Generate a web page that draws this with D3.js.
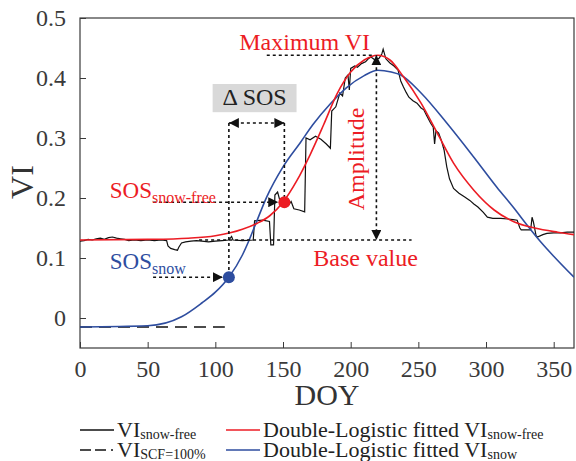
<!DOCTYPE html>
<html>
<head>
<meta charset="utf-8">
<script src="https://cdn.jsdelivr.net/npm/d3@7"></script>
<style>
  body { margin: 0; background: #fff; }
  svg, svg text { font-family: "Liberation Serif", "Times New Roman", serif; }
</style>
</head>
<body>
<svg id="chart"></svg>
<script>
// ---- data ----
const xTicks = [0, 50, 100, 150, 200, 250, 300, 350];
const yTicks = [0, 0.1, 0.2, 0.3, 0.4, 0.5];

// VI snow-free (black, noisy)
const viDays = [0,3,6,9,12,15,18,21,24,27,30,33,36,40,45,50,55,60,64,65,67,70,72,73,75,78,82,86,90,95,100,105,110,112,113,120,128,129,135,140,141,143,144,146,148,152,154,156,158,162,166,167,170,174,178,182,185,186,189,192,194,196,198,199,200,203,205,208,211,213,215,218,221,223,224,226,229,232,235,237,239,241,243,246,249,252,254,256,259,261,262,263,265,267,269,271,273,276,280,284,288,291,294,298,301,305,311,316,320,323,325,326,330,333,334,335,337,338,342,345,350,355,360,365];
const viVals = [0.128,0.129,0.131,0.130,0.132,0.133,0.131,0.134,0.135,0.133,0.132,0.131,0.129,0.130,0.129,0.130,0.129,0.130,0.129,0.120,0.116,0.114,0.113,0.118,0.125,0.127,0.128,0.129,0.128,0.127,0.128,0.129,0.130,0.136,0.130,0.129,0.130,0.162,0.163,0.161,0.122,0.122,0.205,0.210,0.193,0.192,0.188,0.194,0.182,0.180,0.177,0.300,0.297,0.303,0.298,0.290,0.283,0.345,0.352,0.375,0.370,0.400,0.405,0.380,0.416,0.420,0.418,0.424,0.427,0.432,0.435,0.430,0.433,0.440,0.448,0.432,0.425,0.420,0.413,0.395,0.385,0.376,0.368,0.362,0.358,0.350,0.347,0.338,0.325,0.318,0.290,0.312,0.308,0.296,0.280,0.252,0.232,0.216,0.208,0.202,0.196,0.190,0.185,0.176,0.168,0.166,0.166,0.165,0.164,0.163,0.150,0.147,0.147,0.147,0.168,0.160,0.137,0.135,0.139,0.141,0.142,0.142,0.143,0.143];

// Double-Logistic fitted VI snow-free (red)
const redDays = [0,50,80,100,111,120,131,140,150,160,170,180,190,200,210,220,229,239,252,264,276,291,306,321,336,353,365];
const redVals = [0.130,0.131,0.133,0.137,0.142,0.148,0.158,0.170,0.193,0.228,0.272,0.322,0.374,0.410,0.430,0.438,0.430,0.402,0.358,0.308,0.258,0.213,0.180,0.160,0.150,0.143,0.139];

// Double-Logistic fitted VI snow (blue)
const blueDays = [0,50,75,90,100,110,120,125,130,138,150,163,172,185,197,210,220,230,237,252,271,291,308,320,331,340,350,365];
const blueVals = [-0.015,-0.013,0.002,0.025,0.043,0.068,0.105,0.130,0.158,0.202,0.252,0.293,0.322,0.357,0.384,0.404,0.413,0.410,0.405,0.375,0.325,0.268,0.218,0.185,0.153,0.128,0.103,0.068];

// VI at SCF = 100% (dashed)
const scfDays = [0, 107];
const scfVals = [-0.015, -0.015];

// key points / annotation values
const sosSnow = { day: 110, val: 0.068 };
const sosFree = { day: 151, val: 0.193 };
const maxVI = { day: 219, val: 0.438 };
const baseVal = 0.13;

// ---- layout ----
const W = 576, H = 461;
const margin = { top: 18, right: 2, bottom: 113, left: 80 };
const width = W - margin.left - margin.right;
const height = H - margin.top - margin.bottom;

const RED = "#ec1c24", BLUE = "#2e4d9f", AX = "#3a3a3a";
const SERIF = "'Liberation Serif', 'Times New Roman', serif";

const svg = d3.select("#chart").attr("width", W).attr("height", H);

const defs = svg.append("defs");
function marker(id, orient) {
  defs.append("marker")
    .attr("id", id).attr("viewBox", "0 0 10 10")
    .attr("refX", 10).attr("refY", 5)
    .attr("markerWidth", 10).attr("markerHeight", 10)
    .attr("markerUnits", "userSpaceOnUse")
    .attr("orient", orient)
    .append("path").attr("d", "M0,0 L10,5 L0,10 Z").attr("fill", "#111");
}
marker("arr", "auto");
marker("arr2", "auto-start-reverse");

const g = svg.append("g").attr("transform", `translate(${margin.left},${margin.top})`);

const x = d3.scaleLinear().domain([0, 365]).range([0, width]);
const y = d3.scaleLinear().domain([-0.05, 0.5]).range([height, 0]);

// axes (ticks inward)
g.append("g")
  .attr("transform", `translate(0,${height})`)
  .call(d3.axisBottom(x).tickValues(xTicks).tickSize(-6).tickPadding(12).tickSizeOuter(0))
  .attr("font-family", null)
  .call(a => a.select(".domain").remove())
  .call(a => a.selectAll("line").attr("stroke", AX))
  .call(a => a.selectAll("text").attr("font-size", 24).attr("fill", "#3a3a3a").style("font-family", SERIF));

g.append("g")
  .call(d3.axisLeft(y).tickValues(yTicks).tickFormat(d => d === 0 ? "0" : d3.format(".1f")(d)).tickSize(-6).tickPadding(14).tickSizeOuter(0))
  .attr("font-family", null)
  .call(a => a.select(".domain").remove())
  .call(a => a.selectAll("line").attr("stroke", AX))
  .call(a => a.selectAll("text").attr("font-size", 24).attr("fill", "#3a3a3a").style("font-family", SERIF));

g.append("rect")
  .attr("x", 0).attr("y", 0).attr("width", width).attr("height", height)
  .attr("fill", "none").attr("stroke", AX).attr("stroke-width", 1.2);

// axis labels
svg.append("text")
  .attr("x", margin.left + width / 2).attr("y", 405)
  .attr("text-anchor", "middle").attr("font-size", 30).attr("fill", "#333")
  .text("DOY");

svg.append("text")
  .attr("transform", `translate(33,182) rotate(-90)`)
  .attr("text-anchor", "middle").attr("font-size", 32).attr("fill", "#333")
  .text("VI");

// clip for series
defs.append("clipPath").attr("id", "clip")
  .append("rect").attr("width", width).attr("height", height);

const plot = g.append("g").attr("clip-path", "url(#clip)");

const zip = (ds, vs) => ds.map((d, i) => ({ day: d, val: vs[i] }));
const lineRaw = d3.line().x(d => x(d.day)).y(d => y(d.val));
const lineFit = d3.line().x(d => x(d.day)).y(d => y(d.val)).curve(d3.curveMonotoneX);

// dotted helper lines
const dot = (x1, y1, x2, y2, start, end) => {
  const l = g.append("line")
    .attr("x1", x(x1)).attr("y1", y(y1)).attr("x2", x(x2)).attr("y2", y(y2))
    .attr("stroke", "#111").attr("stroke-width", 1.6).attr("stroke-dasharray", "3,3");
  if (start) l.attr("marker-start", "url(#arr2)");
  if (end) l.attr("marker-end", "url(#arr)");
  return l;
};

// base value line
dot(88, baseVal, 245, baseVal);

// series
plot.append("path").datum(zip(viDays, viVals))
  .attr("fill", "none").attr("stroke", "#111").attr("stroke-width", 1.2).attr("d", lineRaw);

plot.append("path").datum(zip(scfDays, scfVals))
  .attr("fill", "none").attr("stroke", "#111").attr("stroke-width", 1.6)
  .attr("stroke-dasharray", "12,7").attr("d", lineRaw);

plot.append("path").datum(zip(blueDays, blueVals))
  .attr("fill", "none").attr("stroke", BLUE).attr("stroke-width", 1.6).attr("d", lineFit);

plot.append("path").datum(zip(redDays, redVals))
  .attr("fill", "none").attr("stroke", RED).attr("stroke-width", 1.6).attr("d", lineFit);

// annotations: delta SOS
g.append("rect")
  .attr("x", x(98)).attr("y", y(0.39)).attr("width", x(160) - x(98)).attr("height", y(0.343) - y(0.39))
  .attr("fill", "#d9d9d9");
g.append("text").attr("x", x(129)).attr("y", y(0.355))
  .attr("text-anchor", "middle").attr("font-size", 24).attr("fill", "#222")
  .text("\u0394 SOS");

dot(sosSnow.day, 0.325, sosSnow.day, sosSnow.val);
dot(sosFree.day, 0.325, sosFree.day, sosFree.val);
dot(sosSnow.day, 0.325, sosFree.day, 0.325, true, true);

// SOS arrows
dot(54, sosFree.val, sosFree.day - 4.5, sosFree.val, false, true);
dot(54, sosSnow.val, sosSnow.day - 4.5, sosSnow.val, false, true);

// maximum / amplitude
dot(138, maxVI.val, maxVI.day - 3, maxVI.val);
dot(maxVI.day, maxVI.val, maxVI.day, baseVal, true, true);

// points
g.append("circle").attr("cx", x(sosFree.day)).attr("cy", y(sosFree.val)).attr("r", 6).attr("fill", RED);
g.append("circle").attr("cx", x(sosSnow.day)).attr("cy", y(sosSnow.val)).attr("r", 6).attr("fill", BLUE);

// annotation texts
g.append("text").attr("x", x(166)).attr("y", y(0.447))
  .attr("text-anchor", "middle").attr("font-size", 24).attr("fill", RED).text("Maximum VI");

g.append("text").attr("transform", `translate(${x(210)},${y(0.265)}) rotate(-90)`)
  .attr("text-anchor", "middle").attr("font-size", 24).attr("fill", RED).text("Amplitude");

g.append("text").attr("x", x(211)).attr("y", y(0.087))
  .attr("text-anchor", "middle").attr("font-size", 24).attr("fill", RED).text("Base value");

const sub = (sel, main, s, fs, sfs, dy) => {
  sel.append("tspan").attr("font-size", fs).text(main);
  sel.append("tspan").attr("font-size", sfs).attr("dy", dy).text(s);
};

sub(g.append("text").attr("x", x(22)).attr("y", y(0.2)).attr("fill", RED), "SOS", "snow-free", 23, 16, 5);
sub(g.append("text").attr("x", x(22)).attr("y", y(0.082)).attr("fill", BLUE), "SOS", "snow", 23, 16, 5);

// legend
const legend = svg.append("g");
const legItems = [
  { x: 80, y: 437, color: "#111", dash: null, main: "VI", s: "snow-free" },
  { x: 226, y: 437, color: RED, dash: null, main: "Double-Logistic fitted VI", s: "snow-free" },
  { x: 80, y: 457, color: "#111", dash: "11,4,11,5,2,20", main: "VI", s: "SCF=100%" },
  { x: 226, y: 457, color: BLUE, dash: null, main: "Double-Logistic fitted VI", s: "snow" }
];
legItems.forEach(d => {
  legend.append("line")
    .attr("x1", d.x).attr("x2", d.x + 34).attr("y1", d.y - 7).attr("y2", d.y - 7)
    .attr("stroke", d.color).attr("stroke-width", 1.5)
    .attr("stroke-dasharray", d.dash);
  sub(legend.append("text").attr("x", d.x + 37).attr("y", d.y).attr("fill", "#222"), d.main, d.s, 22, 14, 2);
});
</script>
</body>
</html>
